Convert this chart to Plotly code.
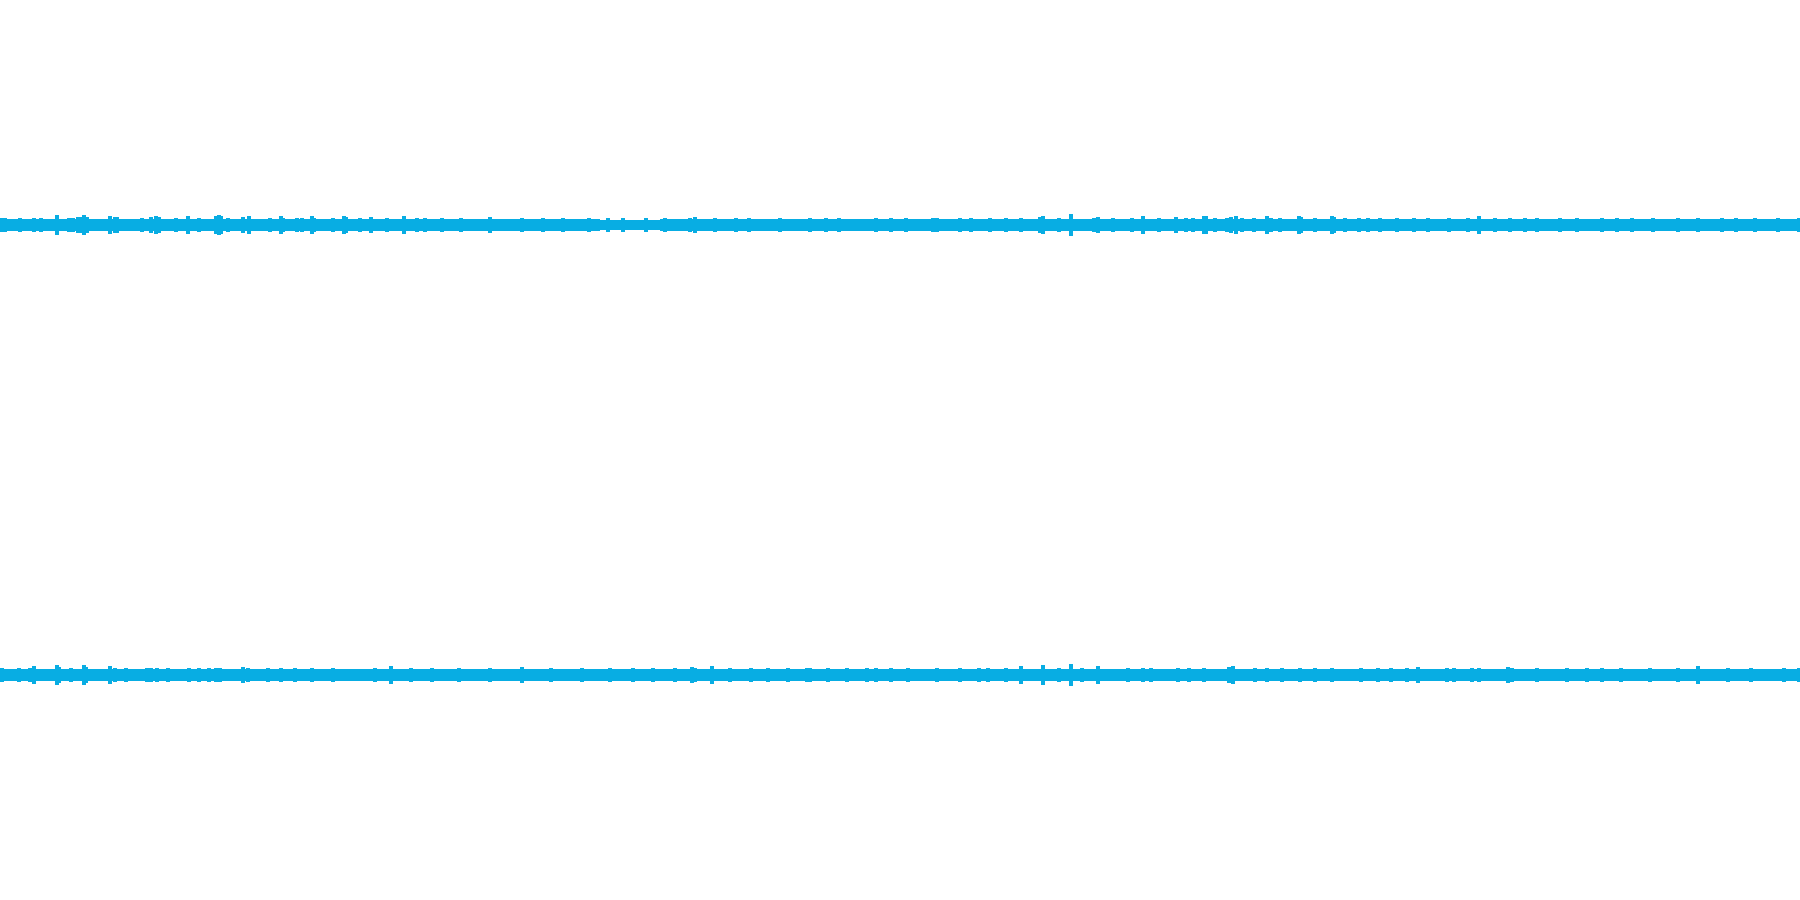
import plotly.graph_objects as go

# Stereo waveform: time in seconds (0..180 s), amplitude in thousandths of full scale
BIN_SECONDS = 3.0
DURATION = 180.0

top_base = [26, 26, 26, 27, 26, 27, 26, 27, 26, 26, 26, 26, 26, 26, 26, 26, 26, 26, 26, 26,
            24, 24, 25, 25, 25, 25, 25, 25, 25, 25, 26, 26, 26, 26, 26, 26, 26, 26, 26, 26,
            27, 26, 26, 26, 26, 26, 27, 26, 26, 26, 26, 26, 26, 26, 26, 26, 26, 26, 26, 26]
bottom_base = [25, 26, 25, 26, 25, 25, 25, 25, 25, 25, 25, 26, 25, 25, 25, 25, 25, 25, 26, 25,
               25, 25, 25, 25, 25, 25, 25, 25, 25, 25, 25, 25, 25, 25, 25, 25, 25, 25, 25, 25,
               25, 25, 25, 25, 25, 25, 25, 25, 25, 25, 25, 25, 25, 25, 25, 25, 25, 25, 25, 25]

top_peak_t = [0.2, 0.5, 2.0, 3.4, 4.1, 5.7, 6.9, 7.3, 7.8, 8.1, 8.4, 8.7, 11.0, 11.5, 11.7, 14.2,
              15.1, 15.6, 15.9, 17.6, 18.8, 19.9, 21.6, 21.9, 22.1, 22.8, 24.3, 24.9, 27.0, 28.1,
              28.3, 29.7, 30.2, 31.2, 31.4, 33.3, 34.4, 34.6, 36.0, 37.1, 38.7, 40.4, 41.7, 42.5,
              44.2, 46.1, 49.0, 52.2, 54.3, 56.3, 58.9,
              60.8, 62.3, 64.6, 66.5, 69.0, 69.5, 71.5, 73.6, 74.9, 78.0, 81.0, 82.6, 83.9, 87.6,
              89.1, 90.6, 93.3, 93.7, 96.0, 97.1, 99.0, 100.6, 102.1, 104.0, 104.3, 105.9, 107.1,
              109.4, 109.8, 111.3, 113.2, 114.3, 115.9, 117.6, 118.6, 119.3,
              120.4, 120.6, 121.5, 122.7, 123.1, 123.6, 124.2, 125.4, 126.7, 127.1, 128.0, 129.9,
              130.1, 131.5, 133.2, 133.4, 134.5, 135.9, 136.8, 138.0, 139.7, 141.4, 142.8, 144.9,
              146.8, 147.9, 149.5, 151.0, 152.5, 153.7, 156.0, 157.7, 160.2, 161.7, 163.2, 165.3,
              167.8, 169.8, 172.2, 173.6, 175.5, 177.8, 179.9]
top_peak_a = [31, 31, 31, 31, 31, 44, 31, 31, 36, 36, 44, 36, 38, 36, 36, 31,
              36, 38, 36, 31, 38, 31, 40, 44, 40, 31, 36, 38, 31, 38,
              31, 31, 31, 38, 31, 31, 38, 36, 31, 36, 31, 38, 31, 31,
              31, 33, 36, 33, 31, 31, 31,
              29, 29, 29, 29, 33, 36, 31, 31, 31, 31, 31, 31, 33, 33,
              31, 31, 33, 31, 33, 31, 33, 31, 33, 36, 42, 31, 47,
              33, 36, 31, 31, 40, 31, 36, 31, 31,
              40, 42, 31, 31, 36, 40, 31, 31, 38, 33, 31, 40,
              36, 31, 40, 36, 31, 33, 31, 31, 33, 31, 33, 33, 31, 38,
              31, 33, 31, 33, 31, 33, 31, 33, 33, 31, 31, 31,
              33, 31, 33, 31, 31, 33, 33]

bottom_peak_t = [0.2, 1.9, 3.0, 3.4, 5.7, 5.9, 7.1, 8.4, 8.6, 11.0, 11.5, 12.6, 14.7, 15.1, 15.7,
                 16.8, 18.9, 19.9, 20.9, 21.6, 22.0, 24.3, 24.8, 26.8, 28.1, 29.5, 31.2, 33.3,
                 37.5, 39.1, 41.1, 43.2, 45.9, 49.0, 52.2, 55.1, 58.2,
                 61.0, 63.3, 65.3, 67.5, 69.2, 69.5, 71.2, 73.0, 75.1, 76.8, 78.8, 80.7, 81.0,
                 82.8, 84.7, 86.7, 87.6, 89.1, 90.8, 93.7, 96.0, 97.9, 98.8, 100.6, 102.1,
                 104.3, 105.9, 107.1, 108.2, 109.8, 112.8, 114.3, 115.1, 117.8, 118.9,
                 120.4, 122.9, 123.3, 125.5, 126.7, 128.2, 130.0, 131.5, 133.2, 136.1, 137.8,
                 139.1, 140.7, 141.8, 144.7, 145.4, 147.2, 147.9, 150.8, 151.2, 153.7, 156.7,
                 158.7, 160.2, 162.1, 165.0, 167.8, 169.8, 172.8, 175.1, 178.4, 179.9]
bottom_peak_a = [31, 31, 31, 38, 44, 36, 31, 44, 36, 38, 33, 31, 33, 33, 33,
                 31, 31, 31, 31, 33, 31, 36, 33, 33, 33, 31, 33, 33,
                 31, 40, 33, 31, 33, 33, 36, 31, 33,
                 31, 31, 33, 31, 36, 33, 40, 31, 31, 33, 31, 33, 33,
                 31, 31, 33, 33, 31, 33, 31, 31, 31, 33, 31, 38,
                 44, 31, 49, 31, 38, 31, 33, 31, 31, 33,
                 33, 36, 38, 31, 33, 31, 33, 31, 31, 33, 31,
                 33, 31, 36, 33, 31, 33, 33, 36, 33, 31, 33,
                 31, 31, 31, 31, 33, 38, 31, 31, 31, 33]

COLOR = "#08ADE3"
fig = go.Figure()


def add_channel(base, peak_t, peak_a, yaxis):
    bx = [BIN_SECONDS * (i + 0.5) for i in range(len(base))]
    amp = [v / 1000 for v in base]
    fig.add_trace(go.Bar(x=bx, y=[2 * a for a in amp], base=[-a for a in amp],
                         width=BIN_SECONDS, marker=dict(color=COLOR, line=dict(width=0)),
                         yaxis=yaxis, hoverinfo="skip", showlegend=False))
    pa = [v / 1000 for v in peak_a]
    fig.add_trace(go.Bar(x=peak_t, y=[2 * a for a in pa], base=[-a for a in pa],
                         width=0.35, marker=dict(color=COLOR, line=dict(width=0)),
                         yaxis=yaxis, hoverinfo="skip", showlegend=False))


add_channel(top_base, top_peak_t, top_peak_a, "y")
add_channel(bottom_base, bottom_peak_t, bottom_peak_a, "y2")

hidden = dict(showgrid=False, zeroline=False, showticklabels=False, showline=False, ticks="")
fig.update_layout(
    width=1800, height=900,
    margin=dict(l=0, r=0, t=0, b=0),
    paper_bgcolor="white", plot_bgcolor="white",
    barmode="overlay", bargap=0,
    xaxis=dict(range=[0, DURATION], **hidden),
    yaxis=dict(range=[-1, 1], domain=[0.5, 1.0], **hidden),
    yaxis2=dict(range=[-1, 1], domain=[0.0, 0.5], **hidden),
    showlegend=False,
)
fig.write_html("out.html", config={"displayModeBar": False},
               post_script="document.body.style.margin='0';document.body.style.overflow='hidden';")
